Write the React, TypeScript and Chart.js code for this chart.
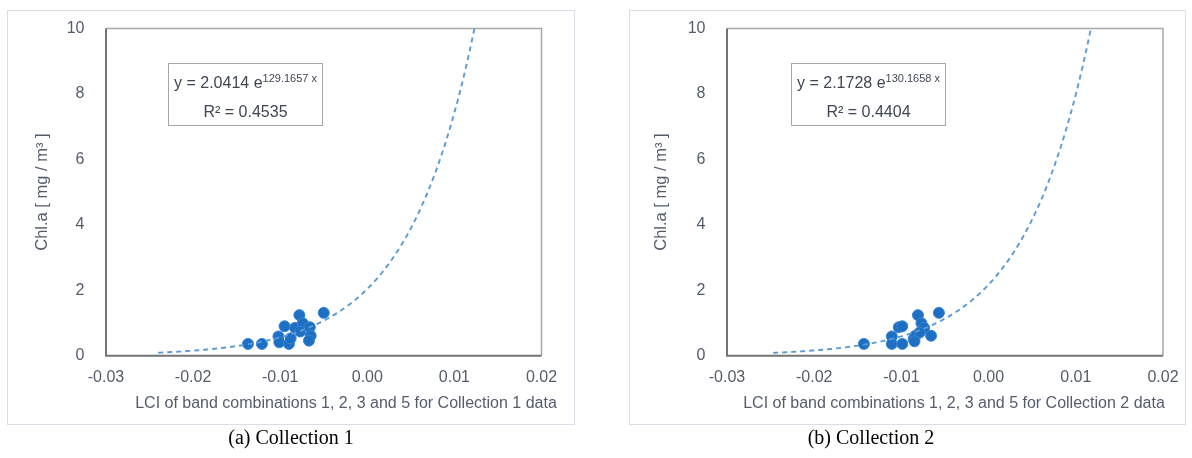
import React, { useEffect, useRef } from 'react';
import { Chart, registerables } from 'chart.js';

Chart.register(...registerables);

// ---------------- data ----------------
const xTickValues = [-0.03, -0.02, -0.01, 0.0, 0.01, 0.02];
const yTickValues = [0, 2, 4, 6, 8, 10];

const collection1LCI = [-0.0137, -0.0121, -0.0102, -0.0101, -0.0095, -0.009, -0.0088, -0.0083, -0.0078, -0.0074, -0.0077, -0.0066, -0.0065, -0.0067, -0.005];
const collection1Chla = [0.36, 0.36, 0.59, 0.41, 0.9, 0.36, 0.53, 0.85, 1.24, 0.99, 0.74, 0.87, 0.61, 0.46, 1.31];

const collection2LCI = [-0.0143, -0.0111, -0.0111, -0.0103, -0.0099, -0.0099, -0.0086, -0.0084, -0.0081, -0.0077, -0.0074, -0.0079, -0.0066, -0.0057, -0.0085];
const collection2Chla = [0.36, 0.59, 0.36, 0.87, 0.9, 0.36, 0.51, 0.61, 1.24, 0.99, 0.85, 0.71, 0.61, 1.31, 0.44];

// exponential trendline y = a * e^(b x), as printed on the charts
const fit1Coef = [2.0414, 129.1657];
const fit1Text = ['2.0414', '129.1657', '0.4535'];
const fit2Coef = [2.1728, 130.1658];
const fit2Text = ['2.1728', '130.1658', '0.4404'];
const trendStartX = [-0.024, -0.0247];

const xTitles = [
  'LCI of band combinations 1, 2, 3 and 5 for Collection 1 data',
  'LCI of band combinations 1, 2, 3 and 5 for Collection 2 data',
];
const yTitle = 'Chl.a [ mg / m\u00B3 ]';
const captions = ['(a) Collection 1', '(b) Collection 2'];

// ---------------- styling ----------------
const SANS = '"Liberation Sans", Arial, Helvetica, sans-serif';
const SERIF = '"Liberation Serif", "Times New Roman", serif';
const TEXT = '#555d6b';

type Geo = {
  panel: [number, number, number, number]; // left, top, width, height (page)
  area: [number, number, number, number]; // left, top, right, bottom (page)
  yTitleX: number;
  xTitleX: number;
  xTitleY: number;
  box: [number, number, number, number];
  captionX: number;
};

const geos: Geo[] = [
  { panel: [7, 10, 568, 415], area: [106, 28.5, 541.5, 355.7], yTitleX: 42, xTitleX: 346, xTitleY: 403, box: [168, 63, 155, 63], captionX: 291 },
  { panel: [629, 10, 557, 415], area: [727, 28.5, 1163, 355.7], yTitleX: 661, xTitleX: 954, xTitleY: 403, box: [791, 63, 155, 63], captionX: 871 },
];

const framePlugin = {
  id: 'plotFrame',
  beforeDatasetsDraw(chart: any) {
    const { ctx, chartArea } = chart;
    const { left, right, top, bottom } = chartArea;
    ctx.save();
    ctx.lineWidth = 1.5;
    ctx.strokeStyle = '#a9a9a9';
    ctx.beginPath();
    ctx.moveTo(left, top);
    ctx.lineTo(right, top);
    ctx.lineTo(right, bottom);
    ctx.stroke();
    ctx.lineWidth = 2;
    ctx.strokeStyle = '#747474';
    ctx.beginPath();
    ctx.moveTo(left, top);
    ctx.lineTo(left, bottom);
    ctx.lineTo(right, bottom);
    ctx.stroke();
    ctx.restore();
  },
};

function fmtX(v: number) {
  if (Math.abs(v) < 1e-9) return '0.00';
  return v.toFixed(2);
}

function zeroPad(s: any) {
  s.paddingTop = 0;
  s.paddingBottom = 0;
  s.paddingLeft = 0;
  s.paddingRight = 0;
}

function Panel({ idx }: { idx: number }) {
  const ref = useRef<HTMLCanvasElement | null>(null);
  const g = geos[idx];
  const xs = idx === 0 ? collection1LCI : collection2LCI;
  const ys = idx === 0 ? collection1Chla : collection2Chla;
  const coef = idx === 0 ? fit1Coef : fit2Coef;

  useEffect(() => {
    if (!ref.current) return;
    const [pl, pt, pw, ph] = g.panel;
    const [al, at, ar, ab] = g.area;
    const a = coef[0];
    const b = coef[1];
    const xEnd = Math.log(10 / a) / b;
    const xStart = trendStartX[idx];
    const trend: { x: number; y: number }[] = [];
    const n = 150;
    for (let i = 0; i <= n; i++) {
      const x = xStart + ((xEnd - xStart) * i) / n;
      trend.push({ x, y: a * Math.exp(b * x) });
    }
    const pts = xs.map((x, i) => ({ x, y: ys[i] }));
    const tickFs = 16;
    const titleFs = 16.5;

    const chart = new Chart(ref.current, {
      type: 'scatter',
      data: {
        datasets: [
          {
            type: 'line',
            data: trend,
            borderColor: '#5b9bd5',
            borderWidth: 1.9,
            borderDash: [5, 4],
            pointRadius: 0,
            fill: false,
            tension: 0,
          } as any,
          {
            data: pts,
            backgroundColor: '#1c6fc3',
            borderColor: '#3a85d2',
            borderWidth: 1,
            pointRadius: 5.5,
          },
        ],
      },
      options: {
        animation: false,
        responsive: false,
        events: [],
        layout: { padding: { top: at - pt, right: pl + pw - ar, left: 0, bottom: 0 } },
        plugins: { legend: { display: false }, tooltip: { enabled: false } },
        scales: {
          x: {
            type: 'linear',
            min: -0.03,
            max: 0.02,
            grid: { display: false, drawTicks: false },
            border: { display: false },
            afterBuildTicks: (s: any) => {
              s.ticks = xTickValues.map((v) => ({ value: v }));
            },
            afterFit: (s: any) => {
              s.height = pt + ph - ab;
              zeroPad(s);
            },
            ticks: {
              padding: 12.7,
              color: TEXT,
              font: { family: SANS, size: tickFs },
              maxRotation: 0,
              callback: (v: any) => fmtX(Number(v)),
            },
          },
          y: {
            type: 'linear',
            min: 0,
            max: 10,
            grid: { display: false, drawTicks: false },
            border: { display: false },
            afterBuildTicks: (s: any) => {
              s.ticks = yTickValues.map((v) => ({ value: v }));
            },
            afterFit: (s: any) => {
              s.width = al - pl;
              zeroPad(s);
            },
            ticks: {
              padding: 21.5,
              color: TEXT,
              font: { family: SANS, size: tickFs },
              callback: (v: any) => String(v),
            },
            title: {
              display: true,
              text: yTitle,
              color: TEXT,
              font: { family: SANS, size: titleFs },
              padding: { top: g.yTitleX - pl - titleFs * 0.6, bottom: 0 },
            },
          },
        },
      },
      plugins: [framePlugin],
    });
    return () => chart.destroy();
  }, []);

  const [pl, pt, pw, ph] = g.panel;
  const [bl, bt, bw, bh] = g.box;
  const txt = idx === 0 ? fit1Text : fit2Text;
  return (
    <>
      <canvas
        ref={ref}
        width={pw}
        height={ph}
        style={{ position: 'absolute', left: pl, top: pt, width: pw, height: ph }}
      />
      <div
        style={{
          position: 'absolute',
          left: pl,
          top: pt,
          width: pw,
          height: ph,
          boxSizing: 'border-box',
          border: '1px solid #d9dde6',
          pointerEvents: 'none',
        }}
      />
      <div
        style={{
          position: 'absolute',
          left: g.xTitleX - 260,
          width: 520,
          top: g.xTitleY - 11,
          height: 22,
          lineHeight: '22px',
          textAlign: 'center',
          whiteSpace: 'nowrap',
          fontFamily: SANS,
          fontSize: 16,
          color: TEXT,
        }}
      >
        {xTitles[idx]}
      </div>
      <div
        style={{
          position: 'absolute',
          left: bl,
          top: bt,
          width: bw,
          height: bh,
          boxSizing: 'border-box',
          border: '1.5px solid #a6a6a6',
          background: '#ffffff',
          fontFamily: SANS,
          color: '#404653',
          fontSize: 16,
        }}
      >
        <div style={{ position: 'absolute', left: 0, right: 0, top: 8, height: 22, lineHeight: '22px', textAlign: 'center', whiteSpace: 'nowrap' }}>
          {'y = ' + txt[0] + ' e'}
          <span style={{ fontSize: 11, position: 'relative', top: -6 }}>{txt[1] + ' x'}</span>
        </div>
        <div style={{ position: 'absolute', left: 0, right: 0, top: 37, height: 22, lineHeight: '22px', textAlign: 'center', whiteSpace: 'nowrap' }}>
          {'R\u00B2 = ' + txt[2]}
        </div>
      </div>
      <div
        style={{
          position: 'absolute',
          left: g.captionX - 150,
          width: 300,
          top: 425,
          height: 24,
          lineHeight: '24px',
          textAlign: 'center',
          fontFamily: SERIF,
          fontSize: 20,
          color: '#000',
        }}
      >
        {captions[idx]}
      </div>
    </>
  );
}

export default function App() {
  return (
    <div style={{ position: 'absolute', left: 0, top: 0, width: 1192, height: 458, background: '#fff' }}>
      <Panel idx={0} />
      <Panel idx={1} />
    </div>
  );
}
